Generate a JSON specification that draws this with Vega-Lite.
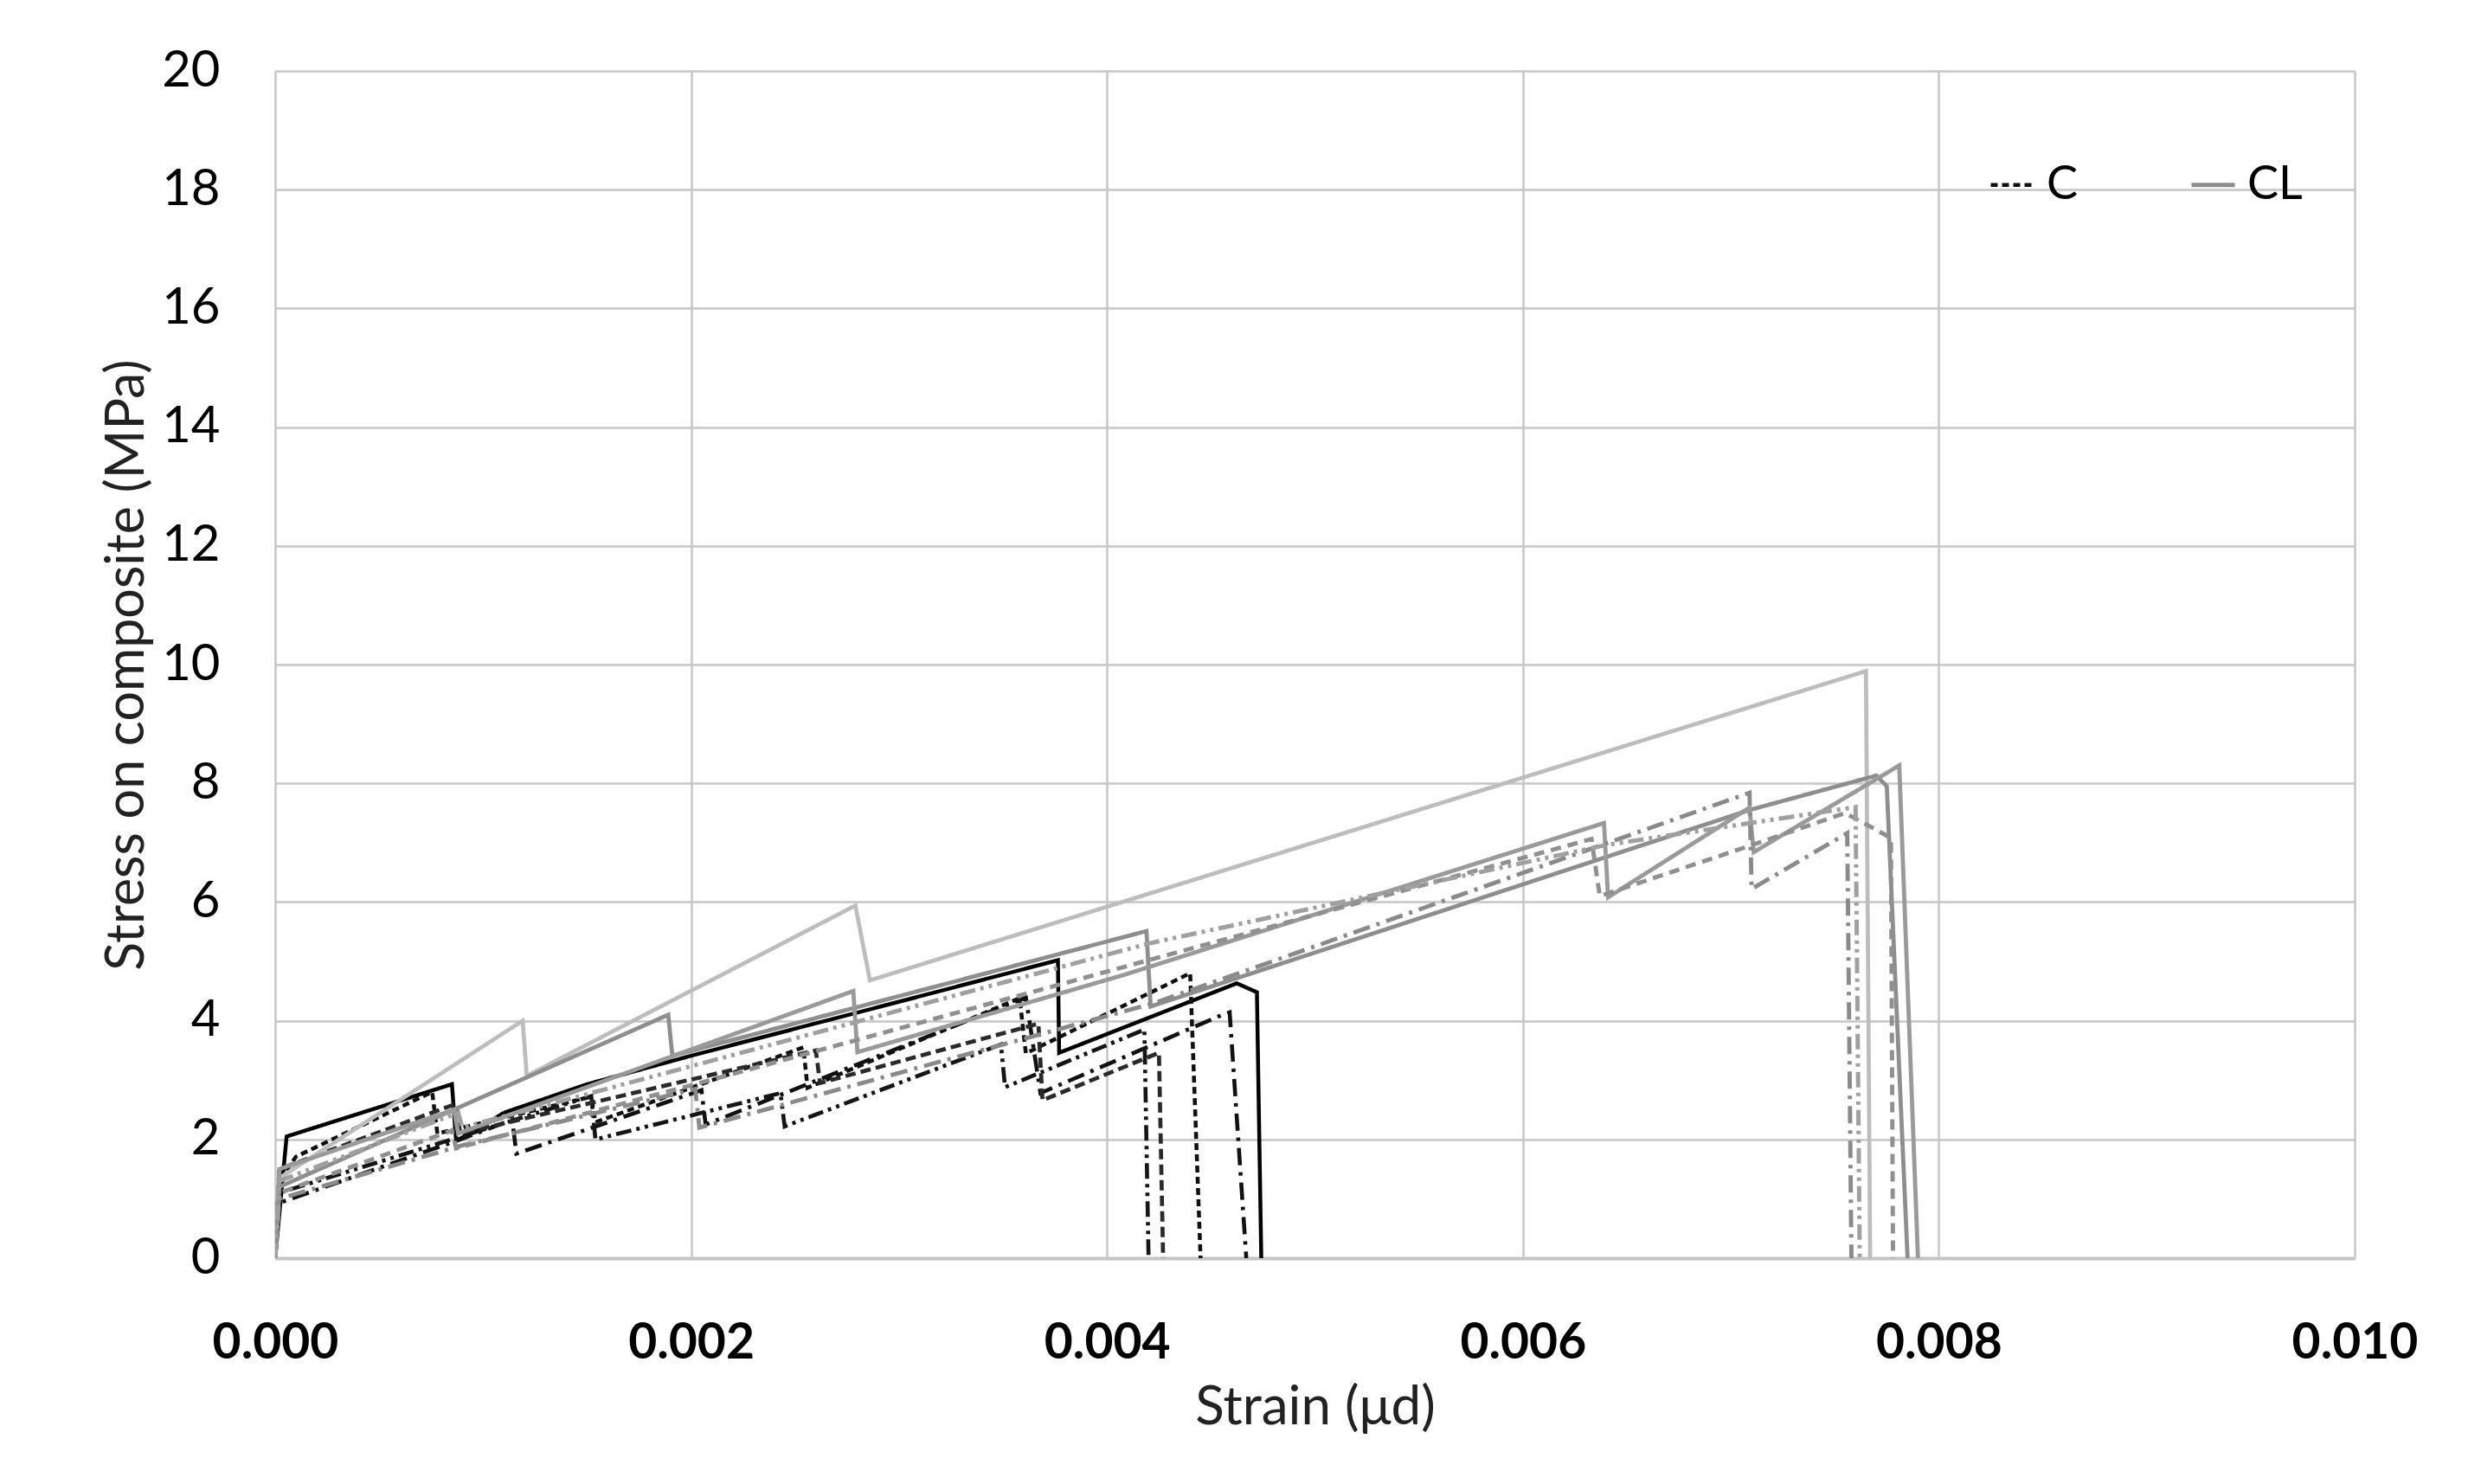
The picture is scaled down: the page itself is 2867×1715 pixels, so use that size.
{
  "$schema": "https://vega.github.io/schema/vega-lite/v6.json",
  "width": 2403,
  "height": 1372,
  "autosize": {"type": "none"},
  "padding": {"left": 318, "top": 82, "right": 146, "bottom": 261},
  "background": "white",
  "config": {
    "view": {"stroke": null},
    "font": "Lato",
    "axis": {"labelFont": "Lato", "titleFont": "Lato", "labelColor": "#000", "titleColor": "#222", "titleFontWeight": "normal"},
    "legend": {"labelFont": "Lato"}
  },
  "data": {"values": [
    {"i":0,"s":"C-1","x":0,"y":0},{"i":1,"s":"C-1","x":0.000055,"y":2.05},{"i":2,"s":"C-1","x":0.00085,"y":2.93},{"i":3,"s":"C-1","x":0.00087,"y":1.98},{"i":4,"s":"C-1","x":0.00095,"y":2.12},{"i":5,"s":"C-1","x":0.0011,"y":2.45},{"i":6,"s":"C-1","x":0.0015,"y":2.93},{"i":7,"s":"C-1","x":0.002,"y":3.41},{"i":8,"s":"C-1","x":0.003,"y":4.32},{"i":9,"s":"C-1","x":0.003764,"y":5.02},{"i":10,"s":"C-1","x":0.00377,"y":3.46},{"i":11,"s":"C-1","x":0.004624,"y":4.63},{"i":12,"s":"C-1","x":0.004721,"y":4.48},{"i":13,"s":"C-1","x":0.004742,"y":0},
    {"i":20,"s":"C-2","x":0,"y":0},{"i":21,"s":"C-2","x":0.00002,"y":1.3},{"i":22,"s":"C-2","x":0.0001,"y":1.71},{"i":23,"s":"C-2","x":0.000755,"y":2.8},{"i":24,"s":"C-2","x":0.00078,"y":2.1},{"i":25,"s":"C-2","x":0.00152,"y":2.72},{"i":26,"s":"C-2","x":0.00154,"y":2.29},{"i":27,"s":"C-2","x":0.00254,"y":3.55},{"i":28,"s":"C-2","x":0.00256,"y":2.87},{"i":29,"s":"C-2","x":0.00358,"y":4.38},{"i":30,"s":"C-2","x":0.00361,"y":3.45},{"i":31,"s":"C-2","x":0.0044,"y":4.8},{"i":32,"s":"C-2","x":0.00445,"y":0},
    {"i":40,"s":"C-3","x":0,"y":0},{"i":41,"s":"C-3","x":0.00002,"y":0.93},{"i":42,"s":"C-3","x":0.00089,"y":2.0},{"i":43,"s":"C-3","x":0.00114,"y":2.33},{"i":44,"s":"C-3","x":0.00116,"y":1.76},{"i":45,"s":"C-3","x":0.00205,"y":2.83},{"i":46,"s":"C-3","x":0.00207,"y":2.25},{"i":47,"s":"C-3","x":0.00361,"y":4.39},{"i":48,"s":"C-3","x":0.00368,"y":2.78},{"i":49,"s":"C-3","x":0.004548,"y":4.09},{"i":50,"s":"C-3","x":0.00459,"y":4.14},{"i":51,"s":"C-3","x":0.00467,"y":0},
    {"i":60,"s":"C-4","x":0,"y":0},{"i":61,"s":"C-4","x":0.00002,"y":1.1},{"i":62,"s":"C-4","x":0.00152,"y":2.73},{"i":63,"s":"C-4","x":0.00154,"y":2.0},{"i":64,"s":"C-4","x":0.00243,"y":2.78},{"i":65,"s":"C-4","x":0.00245,"y":2.22},{"i":66,"s":"C-4","x":0.00349,"y":3.6},{"i":67,"s":"C-4","x":0.00351,"y":2.88},{"i":68,"s":"C-4","x":0.00418,"y":3.85},{"i":69,"s":"C-4","x":0.0042,"y":0},
    {"i":80,"s":"C-5","x":0,"y":0},{"i":81,"s":"C-5","x":0.00002,"y":1.5},{"i":82,"s":"C-5","x":0.00087,"y":2.6},{"i":83,"s":"C-5","x":0.00089,"y":2.1},{"i":84,"s":"C-5","x":0.0026,"y":3.5},{"i":85,"s":"C-5","x":0.00262,"y":2.95},{"i":86,"s":"C-5","x":0.00367,"y":3.95},{"i":87,"s":"C-5","x":0.00369,"y":2.66},{"i":88,"s":"C-5","x":0.00425,"y":3.46},{"i":89,"s":"C-5","x":0.00427,"y":0},
    {"i":100,"s":"CL-1","x":0,"y":0},{"i":101,"s":"CL-1","x":0.00002,"y":1.35},{"i":102,"s":"CL-1","x":0.00119,"y":4.0},{"i":103,"s":"CL-1","x":0.00121,"y":3.07},{"i":104,"s":"CL-1","x":0.00279,"y":5.94},{"i":105,"s":"CL-1","x":0.00286,"y":4.68},{"i":106,"s":"CL-1","x":0.00765,"y":9.89},{"i":107,"s":"CL-1","x":0.00767,"y":0},
    {"i":120,"s":"CL-2","x":0,"y":0},{"i":121,"s":"CL-2","x":0.00002,"y":1.2},{"i":122,"s":"CL-2","x":0.00089,"y":2.55},{"i":123,"s":"CL-2","x":0.00189,"y":4.1},{"i":124,"s":"CL-2","x":0.00191,"y":3.41},{"i":125,"s":"CL-2","x":0.00419,"y":5.51},{"i":126,"s":"CL-2","x":0.00421,"y":4.24},{"i":127,"s":"CL-2","x":0.00709,"y":7.55},{"i":128,"s":"CL-2","x":0.0077,"y":8.13},{"i":129,"s":"CL-2","x":0.00775,"y":7.95},{"i":130,"s":"CL-2","x":0.00785,"y":0},
    {"i":140,"s":"CL-3","x":0,"y":0},{"i":141,"s":"CL-3","x":0.00002,"y":1.5},{"i":142,"s":"CL-3","x":0.00086,"y":2.5},{"i":143,"s":"CL-3","x":0.00088,"y":2.1},{"i":144,"s":"CL-3","x":0.00278,"y":4.5},{"i":145,"s":"CL-3","x":0.0028,"y":3.47},{"i":146,"s":"CL-3","x":0.00408,"y":4.77},{"i":147,"s":"CL-3","x":0.00639,"y":7.33},{"i":148,"s":"CL-3","x":0.00641,"y":6.08},{"i":149,"s":"CL-3","x":0.00709,"y":7.59},{"i":150,"s":"CL-3","x":0.00711,"y":6.84},{"i":151,"s":"CL-3","x":0.00781,"y":8.3},{"i":152,"s":"CL-3","x":0.0079,"y":0},
    {"i":160,"s":"CL-4","x":0,"y":0},{"i":161,"s":"CL-4","x":0.00002,"y":1.0},{"i":162,"s":"CL-4","x":0.0009,"y":1.9},{"i":163,"s":"CL-4","x":0.00202,"y":2.85},{"i":164,"s":"CL-4","x":0.00204,"y":2.2},{"i":165,"s":"CL-4","x":0.00423,"y":4.3},{"i":166,"s":"CL-4","x":0.00709,"y":7.84},{"i":167,"s":"CL-4","x":0.0071,"y":6.22},{"i":168,"s":"CL-4","x":0.00756,"y":7.16},{"i":169,"s":"CL-4","x":0.00758,"y":0},
    {"i":180,"s":"CL-5","x":0,"y":0},{"i":181,"s":"CL-5","x":0.00002,"y":1.1},{"i":182,"s":"CL-5","x":0.00085,"y":2.15},{"i":183,"s":"CL-5","x":0.00087,"y":1.85},{"i":184,"s":"CL-5","x":0.00204,"y":2.95},{"i":185,"s":"CL-5","x":0.00633,"y":7.06},{"i":186,"s":"CL-5","x":0.00637,"y":6.1},{"i":187,"s":"CL-5","x":0.00706,"y":6.91},{"i":188,"s":"CL-5","x":0.00755,"y":7.5},{"i":189,"s":"CL-5","x":0.00777,"y":7.08},{"i":190,"s":"CL-5","x":0.00778,"y":0},
    {"i":200,"s":"CL-6","x":0,"y":0},{"i":201,"s":"CL-6","x":0.00002,"y":1.3},{"i":202,"s":"CL-6","x":0.00088,"y":2.45},{"i":203,"s":"CL-6","x":0.0009,"y":2.2},{"i":204,"s":"CL-6","x":0.0042,"y":5.3},{"i":205,"s":"CL-6","x":0.0064,"y":6.96},{"i":206,"s":"CL-6","x":0.0076,"y":7.6},{"i":207,"s":"CL-6","x":0.00762,"y":0}
  ]},
  "mark": {"type": "line", "strokeCap": "butt", "strokeJoin": "miter", "clip": true},
  "encoding": {
    "x": {
      "field": "x", "type": "quantitative",
      "scale": {"domain": [0, 0.01], "nice": false, "zero": false},
      "axis": {
        "values": [0, 0.002, 0.004, 0.006, 0.008, 0.01],
        "format": ".3f",
        "title": "Strain (μd)",
        "labelFontSize": 57, "labelFontWeight": "bold", "labelPadding": 70, "labelFlush": false,
        "titleFontSize": 62, "titlePadding": 16,
        "ticks": false,
        "domain": true, "domainColor": "#c4c4c4", "domainWidth": 4,
        "grid": true, "gridColor": "#c6c6c6", "gridWidth": 2.5
      }
    },
    "y": {
      "field": "y", "type": "quantitative",
      "scale": {"domain": [0, 20], "nice": false},
      "axis": {
        "values": [0, 2, 4, 6, 8, 10, 12, 14, 16, 18, 20],
        "title": "Stress on composite (MPa)",
        "labelFontSize": 58, "labelPadding": 64,
        "titleFontSize": 61, "titlePadding": 8,
        "ticks": false, "domain": false,
        "grid": true, "gridColor": "#c6c6c6", "gridWidth": 2.5
      }
    },
    "order": {"field": "i", "type": "quantitative"},
    "color": {
      "field": "s", "type": "nominal",
      "scale": {
        "domain": ["C-1","C-2","C-3","C-4","C-5","CL-1","CL-2","CL-3","CL-4","CL-5","CL-6"],
        "range": ["#000000","#111111","#111111","#151515","#2a2a2a","#bdbdbd","#8e8e8e","#9a9a9a","#8a8a8a","#909090","#a0a0a0"]
      },
      "legend": {
        "values": ["C-2", "CL-2"],
        "labelExpr": "split(datum.label, '-')[0]",
        "title": null, "orient": "none", "direction": "horizontal",
        "legendX": 1980, "legendY": 104,
        "symbolType": "stroke", "symbolSize": 2500, "symbolStrokeWidth": 4,
        "labelFontSize": 54, "labelColor": "#000", "columnPadding": 120, "labelOffset": 12
      }
    },
    "strokeDash": {
      "field": "s", "type": "nominal",
      "scale": {
        "domain": ["C-1","C-2","C-3","C-4","C-5","CL-1","CL-2","CL-3","CL-4","CL-5","CL-6"],
        "range": [[1,0],[8,5],[20,8,4,8],[18,6,4,6,4,6],[12,6],[1,0],[1,0],[1,0],[20,8,4,8],[12,8],[18,6,4,6,4,6]]
      },
      "legend": {
        "values": ["C-2", "CL-2"],
        "labelExpr": "split(datum.label, '-')[0]",
        "title": null, "orient": "none", "direction": "horizontal",
        "legendX": 1980, "legendY": 104,
        "symbolType": "stroke", "symbolSize": 2500, "symbolStrokeWidth": 4,
        "labelFontSize": 54, "labelColor": "#000", "columnPadding": 120, "labelOffset": 12
      }
    },
    "strokeWidth": {
      "field": "s", "type": "nominal",
      "scale": {
        "domain": ["C-1","C-2","C-3","C-4","C-5","CL-1","CL-2","CL-3","CL-4","CL-5","CL-6"],
        "range": [4.5, 5, 4, 3.5, 3, 2.5, 3, 3, 3, 3, 2.5]
      },
      "legend": null
    }
  }
}
